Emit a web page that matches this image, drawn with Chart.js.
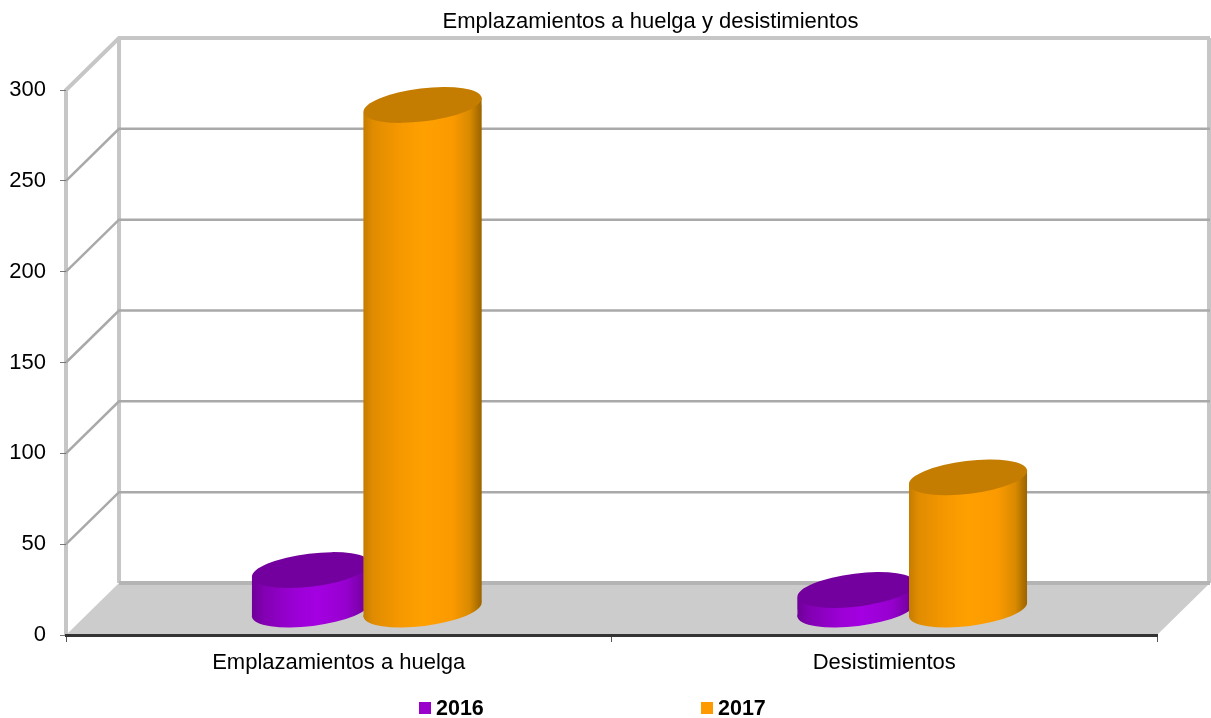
<!DOCTYPE html>
<html>
<head>
<meta charset="utf-8">
<title>Emplazamientos a huelga y desistimientos</title>
<script src="https://cdn.jsdelivr.net/npm/chart.js@4"></script>
<style>
  html, body { margin: 0; padding: 0; background: #fff; }
  canvas { display: block; }
</style>
</head>
<body>
<canvas id="myChart" width="1211" height="718"></canvas>
<script>
var categories = ['Emplazamientos a huelga', 'Desistimientos'];
var seriesNames = ['2016', '2017'];
var values2016 = [22, 11];
var values2017 = [278, 73];
var legendColors = ['#9900cc', '#ff9900'];
var capColors = ['#73009e', '#c47d00'];
var bodyStops = [
    [[0, '#6f0098'], [0.1, '#8200b2'], [0.35, '#9a00d4'], [0.55, '#a400e2'], [0.8, '#9600ce'], [1, '#6a0092']],
    [[0, '#c57c00'], [0.08, '#e08c00'], [0.3, '#f59700'], [0.5, '#ffa000'], [0.75, '#fb9a00'], [0.9, '#d98a00'], [1, '#9a6400']]
];

// depth of the fake 3D box, and where the bars stand on the floor
var boxDx = 53, boxDy = -52;
var barDx = 28, barDy = -25;
var tilt = 7 * Math.PI / 180;
var capB = 16.5;

function cylinderPath(ctx, x, yTop, yBase, halfW) {
    var lift = 7.5;
    ctx.moveTo(x - halfW, yTop + lift);
    ctx.lineTo(x + halfW, yTop - lift);
    ctx.lineTo(x + halfW, yBase - lift);
    ctx.lineTo(x - halfW, yBase + lift);
    ctx.closePath();
}

function barGradient(ctx, index, x, halfW) {
    var g = ctx.createLinearGradient(x - halfW, 0, x + halfW, 0);
    bodyStops[index].forEach(function(s) { g.addColorStop(s[0], s[1]); });
    return g;
}

var box3d = {
    id: 'box3d',
    beforeDraw: function(chart) {
        var ctx = chart.ctx;
        var area = chart.chartArea;
        var y = chart.scales.y;
        var left = area.left, right = area.right, top = area.top, bottom = area.bottom;

        ctx.save();
        ctx.fillStyle = '#fff';
        ctx.fillRect(0, 0, chart.width, chart.height);

        // floor
        ctx.fillStyle = '#cccccc';
        ctx.beginPath();
        ctx.moveTo(left, bottom);
        ctx.lineTo(left + boxDx, bottom + boxDy);
        ctx.lineTo(right + boxDx, bottom + boxDy);
        ctx.lineTo(right, bottom);
        ctx.closePath();
        ctx.fill();

        // outer edges of the walls
        ctx.strokeStyle = '#c6c6c6';
        ctx.lineWidth = 4;
        ctx.beginPath();
        ctx.moveTo(left, bottom);
        ctx.lineTo(left, top);
        ctx.lineTo(left + boxDx, top + boxDy);
        ctx.lineTo(right + boxDx, top + boxDy);
        ctx.moveTo(left + boxDx, top + boxDy);
        ctx.lineTo(left + boxDx, bottom + boxDy);
        ctx.moveTo(right + boxDx - 1, top + boxDy);
        ctx.lineTo(right + boxDx - 1, bottom + boxDy);
        ctx.stroke();

        // gridlines, one per tick of the value axis
        y.ticks.forEach(function(tick) {
            if (tick.value === 0 || tick.value === y.max) return;
            var py = y.getPixelForValue(tick.value);
            ctx.strokeStyle = '#a9a9a9';
            ctx.lineWidth = 2.5;
            ctx.beginPath();
            ctx.moveTo(left, py);
            ctx.lineTo(left + boxDx, py + boxDy);
            ctx.lineTo(right + boxDx, py + boxDy);
            ctx.stroke();
        });

        ctx.strokeStyle = '#b4b4b4';
        ctx.lineWidth = 4;
        ctx.beginPath();
        ctx.moveTo(left + boxDx, bottom + boxDy);
        ctx.lineTo(right + boxDx, bottom + boxDy);
        ctx.stroke();
        ctx.restore();
    },
    beforeDatasetsDraw: function(chart) {
        var ctx = chart.ctx;
        // drawn by hand so the right hand bar ends up over the left one
        chart.getSortedVisibleDatasetMetas().forEach(function(meta) {
            var idx = meta.index;
            ctx.save();
            ctx.translate(barDx, barDy);

            meta.data.forEach(function(bar) {
                var halfW = bar.width / 2;
                var g = barGradient(ctx, idx, bar.x, halfW);
                bar.options = Object.assign({}, bar.options, { backgroundColor: g, borderWidth: 0 });
                ctx.fillStyle = g;
                ctx.beginPath();
                ctx.ellipse(bar.x, bar.base, halfW + 0.5, capB, -tilt, 0, Math.PI * 2);
                ctx.fill();
                ctx.beginPath();
                cylinderPath(ctx, bar.x, bar.y, bar.base, halfW);
                ctx.fill();
            });

            ctx.save();
            ctx.beginPath();
            meta.data.forEach(function(bar) {
                cylinderPath(ctx, bar.x, bar.y, bar.base, bar.width / 2);
            });
            ctx.clip();
            meta.controller.draw();
            ctx.restore();

            meta.data.forEach(function(bar) {
                ctx.fillStyle = capColors[idx];
                ctx.beginPath();
                ctx.ellipse(bar.x, bar.y, bar.width / 2 + 0.5, capB, -tilt, 0, Math.PI * 2);
                ctx.fill();
            });
            ctx.restore();
        });
        return false;
    },
    afterLayout: function(chart) {
        // the title sits right of the plot centre in the original
        chart.titleBlock.left += 72;
        chart.titleBlock.right += 72;
    },
    afterDraw: function(chart) {
        var ctx = chart.ctx;
        var legendX = [419, 701];
        ctx.save();
        ctx.font = 'bold 21.5px "Liberation Sans"';
        ctx.textBaseline = 'alphabetic';
        chart.data.datasets.forEach(function(ds, i) {
            ctx.fillStyle = legendColors[i];
            ctx.fillRect(legendX[i], 702, 12, 12);
            ctx.fillStyle = '#000';
            ctx.fillText(ds.label, legendX[i] + 17, 715);
        });
        ctx.restore();
    }
};

var ctx = document.getElementById('myChart').getContext('2d');
var myChart = new Chart(ctx, {
    type: 'bar',
    data: {
        labels: categories,
        datasets: [
            { label: seriesNames[0], data: values2016, backgroundColor: legendColors[0] },
            { label: seriesNames[1], data: values2017, backgroundColor: legendColors[1] }
        ]
    },
    options: {
        responsive: false,
        animation: false,
        categoryPercentage: 0.409,
        barPercentage: 1.058,
        layout: { padding: { left: 0, right: 54, top: 0, bottom: 0 } },
        plugins: {
            legend: { display: false },
            tooltip: { enabled: false },
            title: {
                display: true,
                text: 'Emplazamientos a huelga y desistimientos',
                color: '#000',
                font: { family: '"Liberation Sans"', size: 22, weight: 'normal', lineHeight: 1 },
                padding: { top: 11, bottom: 57 }
            }
        },
        scales: {
            x: {
                afterFit: function(scale) { scale.height = 83; },
                border: { color: '#333333', width: 3 },
                grid: { drawOnChartArea: false, color: '#555555', tickLength: 7 },
                ticks: {
                    color: '#000',
                    font: { family: '"Liberation Sans"', size: 22 },
                    padding: 8,
                    maxRotation: 0
                }
            },
            y: {
                min: 0,
                max: 300,
                afterFit: function(scale) { scale.width = 66; },
                border: { display: false },
                grid: { drawOnChartArea: false, color: '#777777', tickLength: 6 },
                ticks: {
                    stepSize: 50,
                    color: '#000',
                    font: { family: '"Liberation Sans"', size: 22 },
                    padding: 14
                }
            }
        }
    },
    plugins: [box3d]
});
</script>
</body>
</html>
